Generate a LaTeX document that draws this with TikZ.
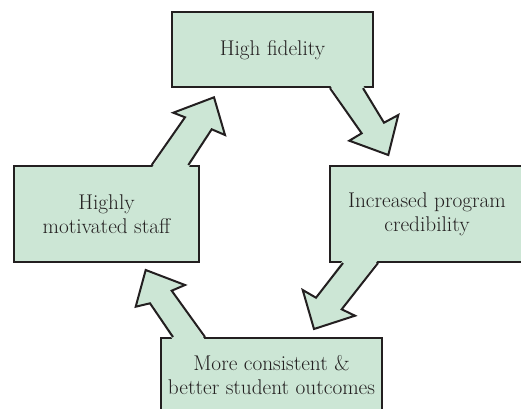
\documentclass[tikz,border=0pt]{standalone}
\usepackage{fontspec}
\usetikzlibrary{calc}
\definecolor{boxfill}{RGB}{204,230,213}
\definecolor{edge}{RGB}{35,31,32}

\begin{document}
\begin{tikzpicture}[x=1pt, y=-1pt,
    box/.style={draw=edge, fill=boxfill, line width=2pt, align=center, inner sep=0pt,
        text=edge, font=\fontsize{21.3}{24}\selectfont},
    bigarrow/.style={draw=edge, line width=2pt, line join=miter}]
    \useasboundingbox (0,0) rectangle (521,408);

    % the four stages
    \node[box, minimum width=201pt, minimum height=75pt] (hifi) at (272.5,49.7) {High fidelity};
    \node[box, minimum width=194pt, minimum height=96pt] (cred) at (427,214) {Increased program\\credibility};
    \node[box, minimum width=221pt, minimum height=74pt] (outc) at (271.5,375) {More consistent \&\\better student outcomes};
    \node[box, minimum width=185pt, minimum height=96pt] (staff) at (106.5,214) {Highly\\motivated staff};

    % arrow bases on the boxes
    \coordinate (a1l) at (330,0 |- hifi.south);
    \coordinate (a1r) at (363,0 |- hifi.south);
    \coordinate (a2l) at (343,0 |- cred.south);
    \coordinate (a2r) at (378,0 |- cred.south);
    \coordinate (a3l) at (173,0 |- outc.north);
    \coordinate (a3r) at (205,0 |- outc.north);
    \coordinate (a4l) at (151.7,0 |- staff.north);
    \coordinate (a4r) at (188.3,0 |- staff.north);

    % high fidelity -> credibility
    \fill[boxfill] ([yshift=3pt]a1l) -- (361.7,133.3) -- (349.3,140.7) -- (388.3,155) -- (398.3,115) -- (384,122.7) -- ([yshift=3pt]a1r) -- cycle;
    \draw[bigarrow] (a1l) -- (361.7,133.3) -- (349.3,140.7) -- (388.3,155) -- (398.3,115) -- (384,122.7) -- (a1r);

    % credibility -> outcomes
    \fill[boxfill] ([yshift=3pt]a2l) -- (316,297.7) -- (302.7,290) -- (314,329) -- (355,315.7) -- (341.7,309.3) -- ([yshift=3pt]a2r) -- cycle;
    \draw[bigarrow] (a2l) -- (316,297.7) -- (302.7,290) -- (314,329) -- (355,315.7) -- (341.7,309.3) -- (a2r);

    % outcomes -> staff
    \fill[boxfill] ([yshift=-3pt]a3l) -- (150,303.3) -- (135.7,306.7) -- (145.7,270) -- (185,285) -- (171.7,290.7) -- ([yshift=-3pt]a3r) -- cycle;
    \draw[bigarrow] (a3l) -- (150,303.3) -- (135.7,306.7) -- (145.7,270) -- (185,285) -- (171.7,290.7) -- (a3r);

    % staff -> high fidelity
    \fill[boxfill] ([yshift=-3pt]a4l) -- (185,117.3) -- (173.3,112.7) -- (214,97.3) -- (225,135) -- (211.7,129.3) -- ([yshift=-3pt]a4r) -- cycle;
    \draw[bigarrow] (a4l) -- (185,117.3) -- (173.3,112.7) -- (214,97.3) -- (225,135) -- (211.7,129.3) -- (a4r);
\end{tikzpicture}
\end{document}
